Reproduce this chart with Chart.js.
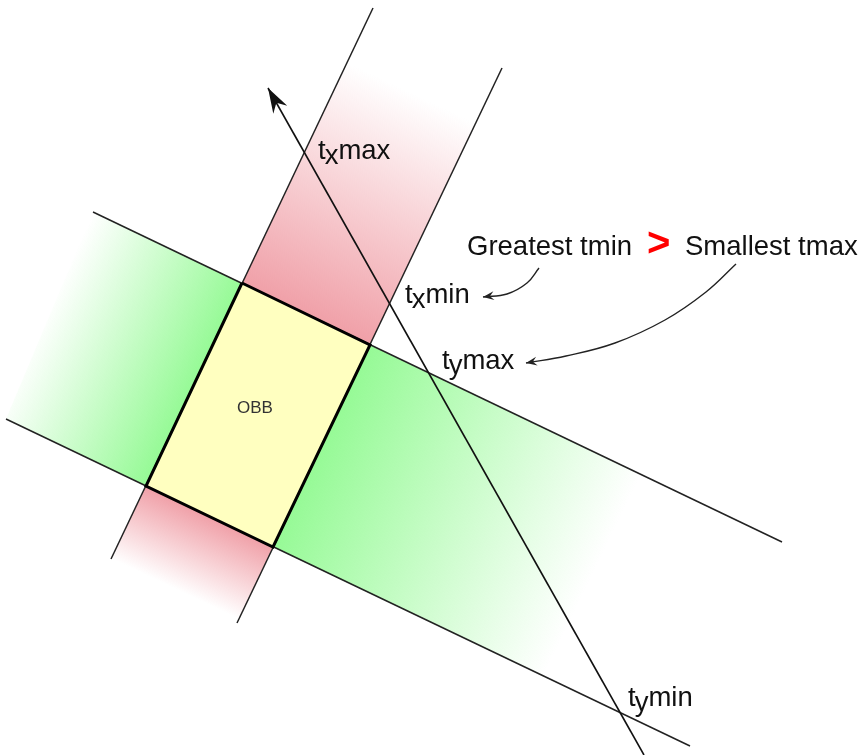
<!DOCTYPE html>
<html><head><meta charset="utf-8">
<script src="https://cdn.jsdelivr.net/npm/chart.js@4.4.1/dist/chart.umd.min.js"></script>
<style>html,body{margin:0;padding:0;background:#fff;}canvas{display:block;}</style>
</head><body>
<canvas id="c" width="863" height="755"></canvas>
<script>
// ---- Diagram data (x to the right, y downward) ----
const planeXMax = [{x:111,y:559},{x:373,y:8}];
const planeXMin = [{x:237,y:623},{x:502,y:68}];
const planeYMax = [{x:93,y:212},{x:782,y:542}];
const planeYMin = [{x:6,y:419},{x:690,y:746}];
const rayPoints = [{x:644,y:755},{x:268,y:88}];
const obbCorners = [{x:242,y:283},{x:370,y:345},{x:273,y:547},{x:146,y:486}];
const slabXUpper = [obbCorners[0], obbCorners[1], {x:502,y:68}, {x:373,y:8}];
const slabXLower = [obbCorners[3], obbCorners[2], {x:237,y:623}, {x:111,y:559}];
const slabYLeft  = [obbCorners[0], obbCorners[3], {x:6,y:419}, {x:93,y:212}];
const slabYRight = [obbCorners[1], obbCorners[2], {x:690,y:746}, {x:782,y:542}];
const arrowGreatest = [{x:539,y:268},{x:527,y:283},{x:507,y:294},{x:483,y:297}];
const arrowSmallest = [{x:736,y:264},{x:706,y:292},{x:665,y:320},{x:615,y:343},{x:566,y:356},{x:526,y:363}];

const hitSubs = ['x','x','y','y'];
const hitRests = ['max','min','max','min'];
const hitAnchors = [{x:318,y:159},{x:405,y:303},{x:442,y:369},{x:628,y:706}];
const headlineTexts = ['Greatest tmin','>','Smallest tmax'];
const headlineAnchors = [{x:467,y:255},{x:649,y:255},{x:685,y:255}];
const boxLabel = 'OBB';
const boxLabelAnchor = {x:255,y:413};

// ---- helpers ----
function closed(pts){ return pts.concat([pts[0]]); }
function mid(a,b){ return {x:(a.x+b.x)/2, y:(a.y+b.y)/2}; }
function unit(a,b){ const dx=b.x-a.x, dy=b.y-a.y, l=Math.hypot(dx,dy); return {x:dx/l,y:dy/l}; }
function along(p,u,d){ return {x:p.x+u.x*d, y:p.y+u.y*d}; }
function arrowHead(pts, len, half, notch){
  const t = pts[pts.length-1], p = pts[pts.length-2];
  const u = unit(p,t), n = {x:-u.y, y:u.x};
  return closed([t,
    {x:t.x-u.x*len+n.x*half, y:t.y-u.y*len+n.y*half},
    {x:t.x-u.x*notch, y:t.y-u.y*notch},
    {x:t.x-u.x*len-n.x*half, y:t.y-u.y*len-n.y*half}]);
}
function gradientFill(from, to, rgb){
  return (ctx) => {
    const chart = ctx.chart, sx = chart.scales.x, sy = chart.scales.y;
    if (!sx || !sy || !chart.chartArea) return 'rgba('+rgb+',0.5)';
    const g = chart.ctx.createLinearGradient(sx.getPixelForValue(from.x), sy.getPixelForValue(from.y),
                                             sx.getPixelForValue(to.x), sy.getPixelForValue(to.y));
    g.addColorStop(0, 'rgba('+rgb+',1)');
    g.addColorStop(1, 'rgba('+rgb+',0)');
    return g;
  };
}
const RED = '240,160,168', GREEN = '150,250,150';
const upDir = unit(obbCorners[3], obbCorners[0]);
const rightDir = unit(obbCorners[0], obbCorners[1]);
const mTop = mid(obbCorners[0],obbCorners[1]), mBot = mid(obbCorners[3],obbCorners[2]);
const mLeft = mid(obbCorners[0],obbCorners[3]), mRight = mid(obbCorners[1],obbCorners[2]);

function fillSet(pts, bg){ return {data:closed(pts), fill:'shape', backgroundColor:bg, borderWidth:0, pointRadius:0, order:5}; }
function lineSet(pts, w, col, order, tension){ return {data:pts, fill:false, borderColor:col, borderWidth:w, pointRadius:0, order:order, tension:tension||0}; }

const datasets = [
  fillSet(slabXUpper, gradientFill(mTop, along(mTop, upDir, 245), RED)),
  fillSet(slabXLower, gradientFill(mBot, along(mBot, upDir, -80), RED)),
  fillSet(slabYLeft,  gradientFill(mLeft, along(mLeft, rightDir, -165), GREEN)),
  fillSet(slabYRight, gradientFill(mRight, along(mRight, rightDir, 300), GREEN)),
  lineSet(planeXMax, 1.5, '#222', 4),
  lineSet(planeXMin, 1.5, '#222', 4),
  lineSet(planeYMax, 1.5, '#222', 4),
  lineSet(planeYMin, 1.5, '#222', 4),
  {data:closed(obbCorners), fill:'shape', backgroundColor:'#ffffc0', borderColor:'#000', borderWidth:3, borderJoinStyle:'miter', pointRadius:0, order:3},
  lineSet(rayPoints, 1.6, '#111', 2),
  lineSet(arrowGreatest, 1.4, '#222', 2, 0.4),
  lineSet(arrowSmallest, 1.4, '#222', 2, 0.4),
  {data:arrowHead(rayPoints, 25, 8, 17), fill:'shape', backgroundColor:'#111', borderWidth:0, pointRadius:0, order:1},
  {data:arrowHead(arrowGreatest, 11, 4.5, 7), fill:'shape', backgroundColor:'#222', borderWidth:0, pointRadius:0, order:1},
  {data:arrowHead(arrowSmallest, 11, 4.5, 7), fill:'shape', backgroundColor:'#222', borderWidth:0, pointRadius:0, order:1}
];

const textPlugin = {
  id:'diagramText',
  afterDatasetsDraw(chart){
    const c = chart.ctx, sx = chart.scales.x, sy = chart.scales.y;
    c.save();
    c.textBaseline = 'alphabetic';
    c.textAlign = 'left';
    c.fillStyle = '#111';
    c.font = '27.5px "Liberation Sans", Arial, sans-serif';
    hitAnchors.forEach((a,i) => {
      let px = sx.getPixelForValue(a.x), py = sy.getPixelForValue(a.y);
      c.fillText('t', px, py); px += c.measureText('t').width - 1;
      c.fillText(hitSubs[i], px, py + 5); px += c.measureText(hitSubs[i]).width;
      c.fillText(hitRests[i], px, py);
    });
    headlineTexts.forEach((t,i) => {
      const a = headlineAnchors[i];
      if (t === '>') { c.save(); c.fillStyle = '#ff0000'; c.font = 'bold 40px "Liberation Sans", Arial, sans-serif';
        c.fillText(t, sx.getPixelForValue(a.x) - 2, sy.getPixelForValue(a.y) + 1); c.restore(); }
      else c.fillText(t, sx.getPixelForValue(a.x), sy.getPixelForValue(a.y));
    });
    c.font = '17px "Liberation Sans", Arial, sans-serif';
    c.fillStyle = '#333';
    c.textAlign = 'center';
    c.fillText(boxLabel, sx.getPixelForValue(boxLabelAnchor.x), sy.getPixelForValue(boxLabelAnchor.y));
    c.restore();
  }
};

new Chart(document.getElementById('c').getContext('2d'), {
  type:'line',
  data:{datasets:datasets},
  options:{
    responsive:false, animation:false, devicePixelRatio:1, events:[],
    layout:{padding:0},
    plugins:{legend:{display:false}, tooltip:{enabled:false}, title:{display:false}},
    scales:{
      x:{type:'linear', display:false, min:0, max:863},
      y:{type:'linear', display:false, min:0, max:755, reverse:true}
    },
    elements:{point:{radius:0}}
  },
  plugins:[textPlugin]
});
</script>
</body></html>
